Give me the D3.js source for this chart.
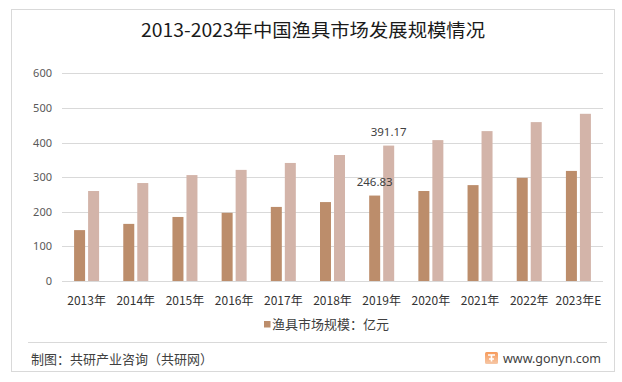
<!DOCTYPE html>
<html>
<head>
<meta charset="utf-8">
<script src="https://cdn.jsdelivr.net/npm/d3@7"></script>
<style>
  html, body { margin: 0; padding: 0; background: #fff; }
  svg { display: block; font-family: "Noto Sans CJK SC", "Noto Sans", sans-serif; }
</style>
</head>
<body>
<svg id="chart" width="622" height="382"></svg>
<script>
const titleText = "2013-2023年中国渔具市场发展规模情况";
const categories = ["2013年","2014年","2015年","2016年","2017年","2018年","2019年","2020年","2021年","2022年","2023年E"];
const seriesA = [147, 165, 185, 197, 214, 228, 246.83, 260, 277, 298, 318];
const seriesB = [260, 283, 306, 321, 341, 364, 391.17, 407, 433, 459, 483];
const seriesNames = ["渔具市场规模：亿元", ""];
const yTicks = [0, 100, 200, 300, 400, 500, 600];
const labelsShown = [{series: 0, index: 6, text: "246.83"}, {series: 1, index: 6, text: "391.17"}];
const sourceText = "制图：共研产业咨询（共研网）";
const siteText = "www.gonyn.com";

const colors = ["#BC8D6B", "#D3B4A9"];
const svg = d3.select("#chart");

// outer frame
svg.append("rect").attr("x", 11.5).attr("y", 9.5).attr("width", 603).attr("height", 362)
  .attr("fill", "#fff").attr("stroke", "#D9D9D9");

// title
svg.append("text").attr("x", 313).attr("y", 37).attr("text-anchor", "middle")
  .attr("font-size", 18).attr("fill", "#1a1a1a")
  .attr("textLength", 344).attr("lengthAdjust", "spacingAndGlyphs")
  .text(titleText);

const y = d3.scaleLinear().domain([0, 600]).range([281, 73.3]);
const x0 = d3.scaleBand().domain(categories).range([62, 603]);
const bw = x0.bandwidth();
const x1 = d3.scaleBand().domain([0, 1]).range([bw / 2 - 12.5, bw / 2 + 12.5]).paddingInner(0.214);

// gridlines
svg.append("g").selectAll("line").data(yTicks).join("line")
  .attr("x1", 62).attr("x2", 603)
  .attr("y1", d => Math.round(y(d)) + 0.5).attr("y2", d => Math.round(y(d)) + 0.5)
  .attr("stroke", "#D9D9D9").attr("stroke-width", 1);

// y axis labels
const yAxis = d3.axisLeft(y).tickValues(yTicks).tickSize(0).tickPadding(0);
const gy = svg.append("g").attr("transform", "translate(52,0)").call(yAxis);
gy.select(".domain").remove();
gy.selectAll("text").attr("font-size", 11).attr("fill", "#595959")
  .attr("font-family", "'Noto Sans', 'DejaVu Sans', sans-serif");

// bars
const series = [seriesA, seriesB];
series.forEach((vals, si) => {
  svg.append("g").selectAll("rect").data(vals).join("rect")
    .attr("x", (d, i) => x0(categories[i]) + x1(si))
    .attr("width", x1.bandwidth())
    .attr("y", d => y(d))
    .attr("height", d => y(0) - y(d))
    .attr("fill", colors[si]);
});

// data labels
svg.append("g").selectAll("text").data(labelsShown).join("text")
  .attr("x", d => x0(categories[d.index]) + x1(d.series) + x1.bandwidth() / 2)
  .attr("y", d => y(series[d.series][d.index]) - 10)
  .attr("text-anchor", "middle").attr("font-size", 11.5).attr("fill", "#404040")
  .attr("font-family", "'Noto Sans', 'DejaVu Sans', sans-serif")
  .text(d => d.text);

// x axis labels
const xAxis = d3.axisBottom(x0).tickSize(0).tickPadding(0);
const gx = svg.append("g").attr("transform", "translate(0,296)").call(xAxis);
gx.select(".domain").remove();
gx.selectAll("text").attr("font-size", 12).attr("fill", "#333333")
  .attr("font-family", "'Noto Sans CJK SC', sans-serif").attr("dy", "0.71em");

// legend
const lg = svg.append("g").attr("transform", "translate(264,321)");
lg.append("rect").attr("width", 6.5).attr("height", 6.5).attr("fill", colors[0]);
lg.append("text").attr("x", 8).attr("y", 3.5).attr("dy", "0.35em")
  .attr("font-size", 13).attr("fill", "#404040").text(seriesNames[0]);

// separator
svg.append("line").attr("x1", 28).attr("x2", 607).attr("y1", 342.5).attr("y2", 342.5)
  .attr("stroke", "#D9D9D9");

// footer
svg.append("text").attr("x", 31).attr("y", 359).attr("dy", "0.35em")
  .attr("font-size", 13).attr("fill", "#404040").text(sourceText);

const defs = svg.append("defs");
const grad = defs.append("linearGradient").attr("id", "lg1").attr("x1", 0).attr("y1", 0).attr("x2", 0).attr("y2", 1);
grad.append("stop").attr("offset", 0).attr("stop-color", "#F79A5A");
grad.append("stop").attr("offset", 1).attr("stop-color", "#F6C7A6");
const icon = svg.append("g").attr("transform", "translate(485,352)");
icon.append("rect").attr("width", 13).attr("height", 12).attr("rx", 1.5).attr("fill", "url(#lg1)");
icon.append("path").attr("d", "M3,3 H10 M6.5,3 V9.5 M4,7 H9").attr("stroke", "#fff").attr("stroke-width", 1.6).attr("fill", "none");

svg.append("text").attr("x", 503).attr("y", 359).attr("dy", "0.35em")
  .attr("font-size", 12.5).attr("fill", "#404040")
  .attr("font-family", "'Noto Sans', 'DejaVu Sans', sans-serif").text(siteText);
</script>
</body>
</html>
